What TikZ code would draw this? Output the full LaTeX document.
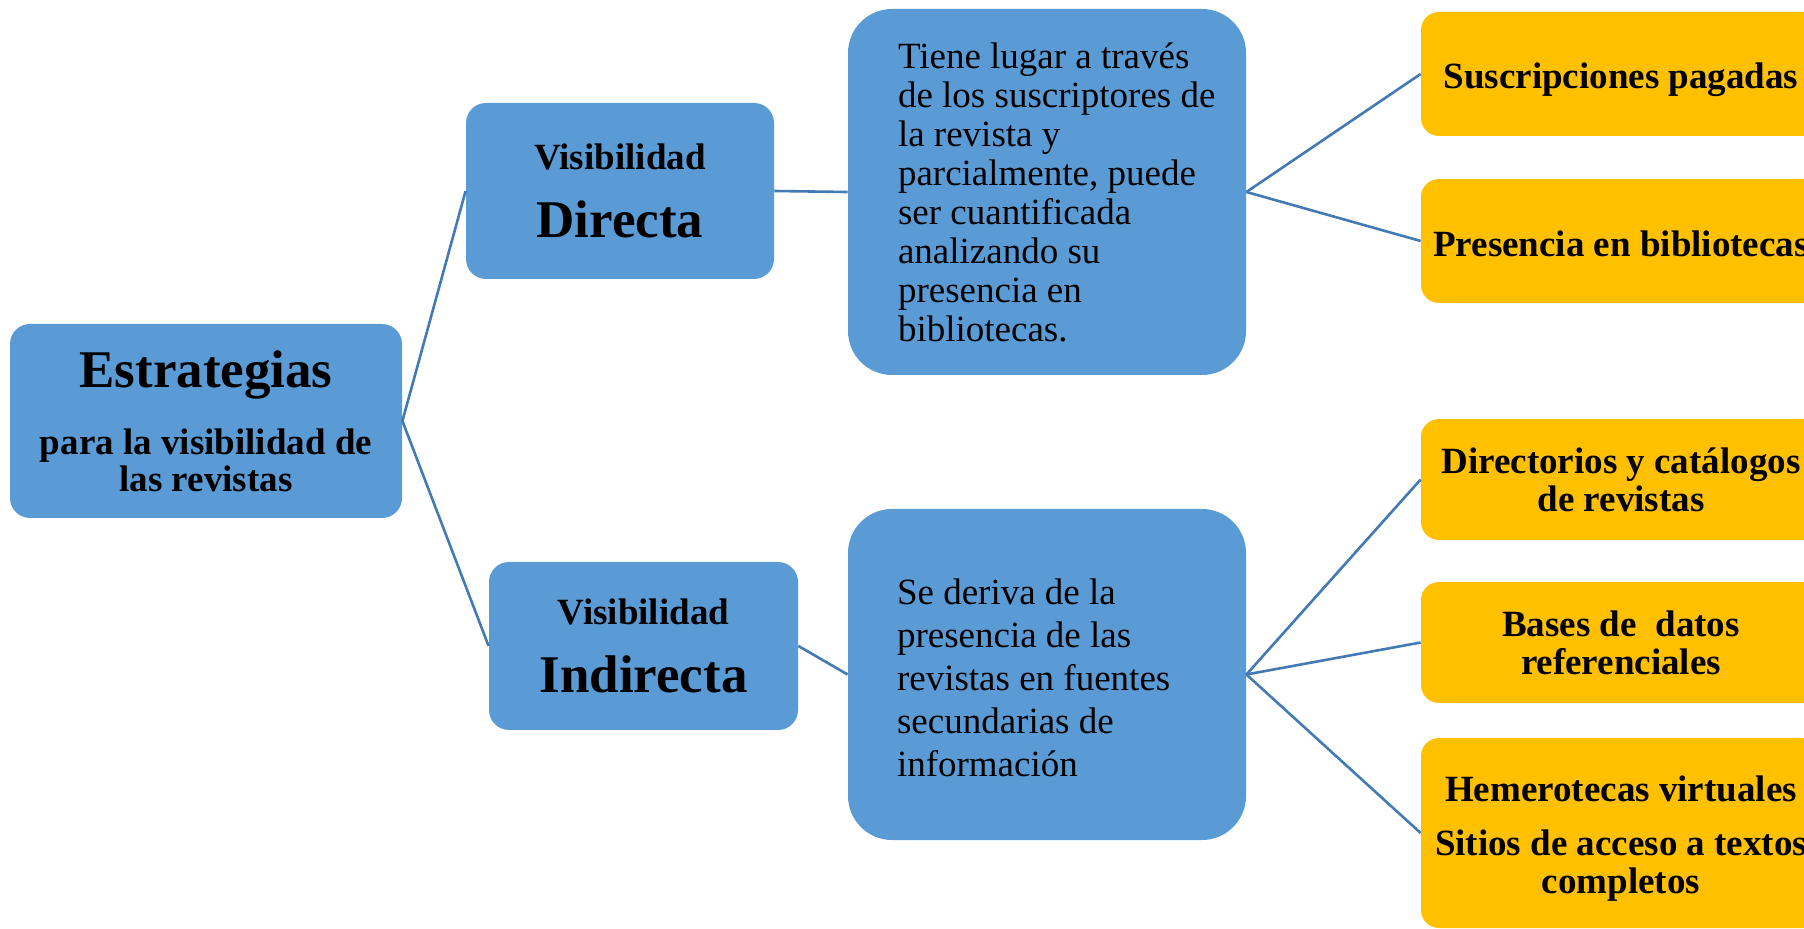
\documentclass[tikz,border=0pt]{standalone}
\usepackage{fontspec}
\setmainfont{Liberation Serif}
\definecolor{boxblue}{RGB}{91,155,213}
\definecolor{boxgold}{RGB}{255,192,0}
\definecolor{linkblue}{RGB}{68,122,180}

\begin{document}
\begin{tikzpicture}[x=1pt, y=-1pt,
    bluebox/.style={fill=boxblue, rounded corners=10pt, inner sep=0pt, align=center,
        font=\bfseries\fontsize{18.5}{18.5}\selectfont},
    descbox/.style={fill=boxblue, rounded corners=22pt, minimum width=199pt, inner sep=0pt},
    desctext/.style={anchor=west, inner sep=0pt, align=left},
    goldbox/.style={fill=boxgold, rounded corners=9pt, minimum width=200pt, inner sep=0pt,
        align=center, font=\bfseries\fontsize{18.5}{19}\selectfont},
    link/.style={draw=linkblue, line width=1.3pt}]
    \useasboundingbox (0,0) rectangle (902,464.5);
    \clip (0,0) rectangle (902,464.5);

    % raiz
    \node[bluebox, minimum width=196pt, minimum height=97pt] (estr) at (103,210.5)
        {{\fontsize{26.5}{26.5}\selectfont Estrategias}\\[14pt]para la visibilidad de\\las revistas};

    % dos tipos de visibilidad
    \node[bluebox, minimum width=154pt, minimum height=88pt] (dir) at (310,95.5)
        {Visibilidad\\[14.5pt]{\fontsize{26.5}{26.5}\selectfont Directa}};
    \node[bluebox, minimum width=154.5pt, minimum height=84pt] (ind) at (321.75,323)
        {Visibilidad\\[14.5pt]{\fontsize{26.5}{26.5}\selectfont Indirecta}};

    % descripciones
    \node[descbox, minimum height=183pt] (d1) at (523.5,96) {};
    \node[desctext, font=\fontsize{18.5}{19.5}\selectfont] (d1txt) at ([xshift=25pt]d1.west)
        {Tiene lugar a través\\de los suscriptores de\\la revista y\\parcialmente, puede\\ser cuantificada\\analizando su\\presencia en\\bibliotecas.};
    \node[descbox, minimum height=165.5pt] (d2) at (523.5,337.25) {};
    \node[desctext, font=\fontsize{18.5}{21.5}\selectfont] (d2txt) at ([xshift=24.5pt, yshift=-1.5pt]d2.west)
        {Se deriva de la\\presencia de las\\revistas en fuentes\\secundarias de\\información};

    % fuentes
    \node[goldbox, minimum height=62pt, text height=19pt, text depth=4pt] (g1) at (810.5,37) {Suscripciones pagadas};
    \node[goldbox, minimum height=62pt, text height=16pt, text depth=0pt] (g2) at (810.5,120.5) {Presencia en bibliotecas};
    \node[goldbox, minimum height=60.5pt] (g3) at (810.5,239.75) {Directorios y catálogos\\de revistas};
    \node[goldbox, minimum height=60.5pt] (g4) at (810.5,321.25) {Bases de\ \ datos\\referenciales};
    \node[goldbox, minimum height=95pt, text height=64pt, text depth=4pt] (g5) at (810.5,416.5)
        {Hemerotecas virtuales\\[8pt]Sitios de acceso a textos\\completos};

    \draw[link] (estr.east) -- (dir.west);
    \draw[link] (estr.east) -- (ind.west);
    \draw[link] (dir.east) -- (d1.west);
    \draw[link] (ind.east) -- (d2.west);
    \foreach \g in {g1,g2}
        \draw[link] (d1.east) -- (\g.west);
    \foreach \g in {g3,g4,g5}
        \draw[link] (d2.east) -- (\g.west);
\end{tikzpicture}
\end{document}
